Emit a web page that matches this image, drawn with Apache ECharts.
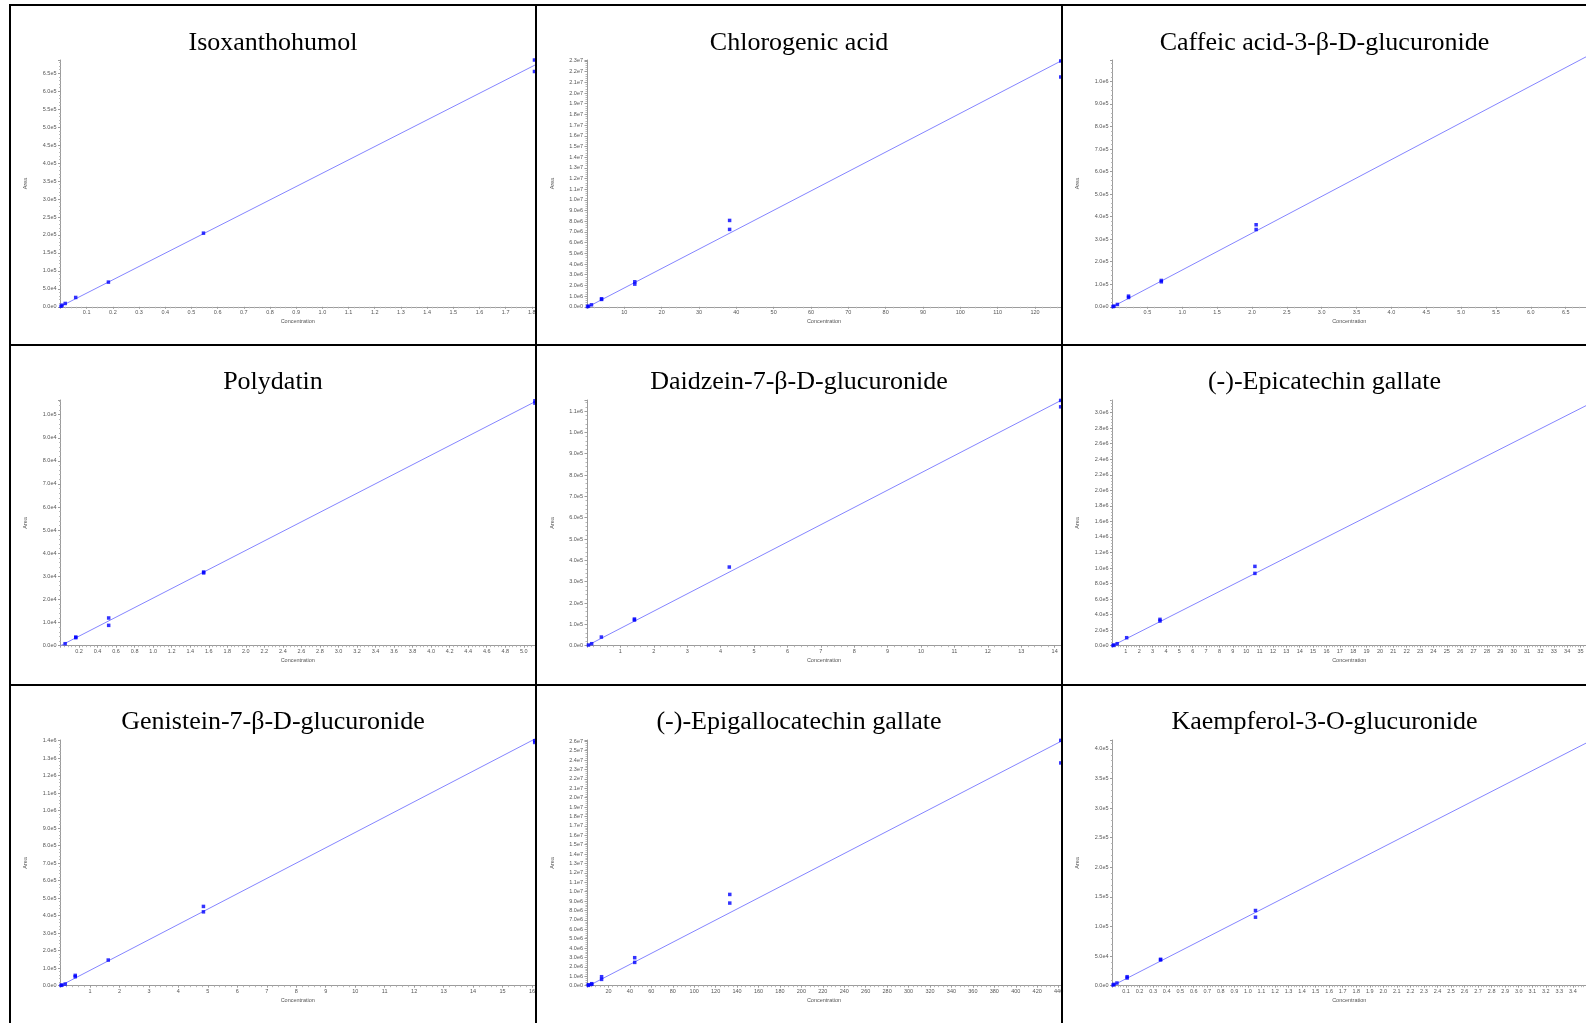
<!DOCTYPE html>
<html>
<head>
<meta charset="utf-8">
<script src="https://cdn.jsdelivr.net/npm/echarts@6/dist/echarts.min.js"></script>
<style>
  html, body { margin: 0; padding: 0; background: #fff; }
  #chart { width: 1586px; height: 1023px; }
</style>
</head>
<body>
<div id="chart"></div>
<script>
// Calibration curves: peak area against concentration, one panel per compound.

const panelTitles = [
  'Isoxanthohumol', 'Chlorogenic acid', 'Caffeic acid-3-β-D-glucuronide',
  'Polydatin', 'Daidzein-7-β-D-glucuronide', '(-)-Epicatechin gallate',
  'Genistein-7-β-D-glucuronide', '(-)-Epigallocatechin gallate', 'Kaempferol-3-O-glucuronide'
];

// Standards: [concentration, area]; regression lines as two end points.
const isoxanthohumolPoints = [[0.002, 1500], [0.006, 4600], [0.018, 9300], [0.058, 26000], [0.183, 68700], [0.546, 205000], [1.81, 687000], [1.81, 655000]];
const isoxanthohumolFit = [[0, 1000], [1.812, 673000]];

const chlorogenicPoints = [[0.13, 20000], [0.4, 62000], [1.2, 187000], [3.9, 690000], [3.9, 750000], [12.8, 2120000], [12.8, 2340000], [38.2, 7240000], [38.2, 8080000], [126.9, 23000000], [126.9, 21500000]];
const chlorogenicFit = [[0, -50000], [126.97, 23000000]];

const caffeicGlucuronidePoints = [[0.007, 1000], [0.022, 3000], [0.07, 10400], [0.23, 41400], [0.23, 47300], [0.70, 110900], [0.70, 116900], [2.06, 343000], [2.06, 364000]];
const caffeicGlucuronideFit = [[0, 0], [6.791, 1109000]];

const polydatinPoints = [[0.05, 870], [0.165, 3460], [0.165, 3750], [0.52, 8800], [0.52, 12000], [1.545, 31500], [1.545, 31900], [5.12, 106000], [5.12, 105000]];
const polydatinFit = [[0, 0], [5.121, 105600]];

const daidzeinGlucuronidePoints = [[0.043, 3100], [0.14, 9400], [0.43, 40600], [1.42, 120300], [1.42, 125000], [4.26, 368800], [14.18, 1150000], [14.18, 1120000]];
const daidzeinGlucuronideFit = [[0, 0], [14.19, 1150000]];

const epicatechinGallatePoints = [[0.035, 3000], [0.11, 8600], [0.35, 25800], [1.06, 103000], [3.55, 318000], [3.55, 339000], [10.65, 931000], [10.65, 1021000]];
const epicatechinGallateFit = [[0, 0], [35.41, 3090000]];

const genisteinGlucuronidePoints = [[0.016, 1900], [0.05, 3800], [0.16, 9500], [0.5, 51400], [0.5, 59000], [1.62, 146500], [4.85, 422000], [4.85, 453000], [16.09, 1400000], [16.09, 1390000]];
const genisteinGlucuronideFit = [[0, 0], [16.10, 1410000]];

const epigallocatechinGallatePoints = [[1.3, 35000], [1.3, 106000], [4.4, 142000], [4.4, 213000], [13.6, 673000], [13.6, 956000], [44.5, 2480000], [44.5, 2980000], [133.2, 8790000], [133.2, 9710000], [442, 26100000], [442, 23700000]];
const epigallocatechinGallateFit = [[0, -100000], [442.2, 26000000]];

const kaempferolGlucuronidePoints = [[0.004, 1100], [0.011, 2300], [0.033, 4500], [0.108, 13000], [0.108, 15200], [0.355, 43500], [0.355, 44600], [1.056, 115700], [1.056, 127000]];
const kaempferolGlucuronideFit = [[0, 0], [3.497, 409700]];

// Axis ranges and tick steps, panel by panel (row-major).
const xMaxima = [1.812, 126.97, 6.791, 5.121, 14.19, 35.41, 16.10, 442.2, 3.497];
const xSteps = [0.1, 10, 0.5, 0.2, 1, 1, 1, 20, 0.1];
const yMaxima = [687000, 23090000, 1095000, 106350, 1152000, 3163000, 1404000, 26140000, 415000];
const ySteps = [50000, 1000000, 100000, 10000, 100000, 200000, 100000, 1000000, 50000];

const panelPoints = [isoxanthohumolPoints, chlorogenicPoints, caffeicGlucuronidePoints, polydatinPoints, daidzeinGlucuronidePoints, epicatechinGallatePoints, genisteinGlucuronidePoints, epigallocatechinGallatePoints, kaempferolGlucuronidePoints];
const panelFits = [isoxanthohumolFit, chlorogenicFit, caffeicGlucuronideFit, polydatinFit, daidzeinGlucuronideFit, epicatechinGallateFit, genisteinGlucuronideFit, epigallocatechinGallateFit, kaempferolGlucuronideFit];

// Page layout (pixels)
const colLeft = [60.5, 587, 1112.5];
const colRight = [535, 1061, 1586];
const colCenter = [273, 799, 1324.5];
const rowTop = [60, 400, 740];
const rowAxis = [306.8, 645.7, 985.7];
const rowTitleY = [43, 382.5, 722];
const borderCols = [10, 536, 1062];
const borderRows = [5, 345, 685];

const axisGray = '#9c9c9c';
const labelGray = '#555';
const smallFont = 'Liberation Sans';

const grids = [], xAxes = [], yAxes = [], series = [], elements = [];

panelTitles.forEach((title, i) => {
  const c = i % 3, r = Math.floor(i / 3);
  grids.push({
    left: colLeft[c], top: rowTop[r],
    width: colRight[c] - colLeft[c], height: rowAxis[r] - rowTop[r],
    containLabel: false, outerBoundsMode: 'none'
  });
  const xDigits = xSteps[i] < 1 ? 1 : 0;
  xAxes.push({
    type: 'value', gridIndex: i, min: 0, max: xMaxima[i], interval: xSteps[i],
    axisLine: { show: true, onZero: false, lineStyle: { color: axisGray, width: 1 } },
    axisTick: { show: true, length: 2, lineStyle: { color: axisGray } },
    minorTick: { show: true, splitNumber: 5, length: 1.5, lineStyle: { color: '#b8b8b8' } },
    splitLine: { show: false }, minorSplitLine: { show: false },
    axisLabel: {
      fontSize: 5.5, fontFamily: smallFont, color: labelGray, margin: 3,
      showMinLabel: false, showMaxLabel: false, hideOverlap: false,
      formatter: v => v.toFixed(xDigits)
    },
    name: 'Concentration', nameLocation: 'middle', nameGap: 11.5,
    nameTextStyle: { fontSize: 5.5, fontFamily: smallFont, color: labelGray }
  });
  yAxes.push({
    type: 'value', gridIndex: i, min: 0, max: yMaxima[i], interval: ySteps[i],
    axisLine: { show: true, onZero: false, lineStyle: { color: axisGray, width: 1 } },
    axisTick: { show: true, length: 2.5, lineStyle: { color: axisGray } },
    minorTick: { show: true, splitNumber: 5, length: 1.5, lineStyle: { color: '#b8b8b8' } },
    splitLine: { show: false }, minorSplitLine: { show: false },
    axisLabel: {
      fontSize: 5.5, fontFamily: smallFont, color: labelGray, margin: 4,
      showMaxLabel: false, hideOverlap: false,
      formatter: v => v.toExponential(1).replace('+', '')
    },
    name: 'Area', nameLocation: 'middle', nameGap: 32,
    nameTextStyle: { fontSize: 5.5, fontFamily: smallFont, color: labelGray }
  });
  series.push({
    type: 'line', xAxisIndex: i, yAxisIndex: i, data: panelFits[i],
    showSymbol: false, clip: false, silent: true, z: 2,
    lineStyle: { color: '#8585ff', width: 1 }
  });
  series.push({
    type: 'scatter', xAxisIndex: i, yAxisIndex: i, data: panelPoints[i],
    symbol: 'rect', symbolSize: 3.5, clip: false, z: 3,
    itemStyle: { color: '#0000ff' }
  });
  elements.push({
    type: 'text', x: colCenter[c], y: rowTitleY[r], z: 50,
    style: {
      text: title, fill: '#000',
      font: '26px "Liberation Serif", "Times New Roman", serif',
      textAlign: 'center', align: 'center',
      textVerticalAlign: 'middle', verticalAlign: 'middle'
    }
  });
});

// Black frame lines separating the panels
borderRows.forEach(y => elements.push({
  type: 'line', z: 100, shape: { x1: borderCols[0] - 1, y1: y, x2: 1586, y2: y },
  style: { stroke: '#000', lineWidth: 2 }
}));
borderCols.forEach(x => elements.push({
  type: 'line', z: 100, shape: { x1: x, y1: borderRows[0] - 1, x2: x, y2: 1023 },
  style: { stroke: '#000', lineWidth: 2 }
}));

const chart = echarts.init(document.getElementById('chart'), null, { renderer: 'canvas' });
chart.setOption({
  animation: false,
  backgroundColor: '#fff',
  grid: grids,
  xAxis: xAxes,
  yAxis: yAxes,
  series: series,
  graphic: { elements: elements }
});
</script>
</body>
</html>
